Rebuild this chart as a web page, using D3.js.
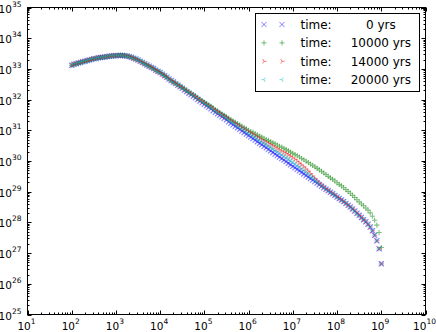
<!DOCTYPE html>
<html>
<head>
<meta charset="utf-8">
<script src="https://cdn.jsdelivr.net/npm/d3@7"></script>
<style>
  body { margin: 0; background: #fff; }
  svg { display: block; font-family: "DejaVu Sans", sans-serif; }
</style>
</head>
<body>
<svg id="chart" width="436" height="332"></svg>
<script>
// log10 of radius for every sample
const logRadius = [
  2.00,2.05,2.10,2.15,2.20,2.25,2.30,2.35,2.40,2.45,
  2.50,2.55,2.60,2.65,2.70,2.75,2.80,2.85,2.90,2.95,
  3.00,3.05,3.10,3.15,3.20,3.25,3.30,3.35,3.40,3.45,
  3.50,3.55,3.60,3.65,3.70,3.75,3.80,3.85,3.90,3.95,
  4.00,4.05,4.10,4.15,4.20,4.25,4.30,4.35,4.40,4.45,
  4.50,4.55,4.60,4.65,4.70,4.75,4.80,4.85,4.90,4.95,
  5.00,5.05,5.10,5.15,5.20,5.25,5.30,5.35,5.40,5.45,
  5.50,5.55,5.60,5.65,5.70,5.75,5.80,5.85,5.90,5.95,
  6.00,6.05,6.10,6.15,6.20,6.25,6.30,6.35,6.40,6.45,
  6.50,6.55,6.60,6.65,6.70,6.75,6.80,6.85,6.90,6.95,
  7.00,7.05,7.10,7.15,7.20,7.25,7.30,7.35,7.40,7.45,
  7.50,7.55,7.60,7.65,7.70,7.75,7.80,7.85,7.90,7.95,
  8.00,8.05,8.10,8.15,8.20,8.25,8.30,8.35,8.40,8.45,
  8.50,8.55,8.60,8.65,8.70,8.75,8.80,8.85,8.90,8.95,
  9.00
];

// log10 of the quantity, inner part (r = 10^2 .. 10^4.3) is the same for all times
const lumCore = [
  33.12,33.15,33.17,33.19,33.21,33.23,33.25,33.27,33.29,33.31,
  33.33,33.34,33.36,33.37,33.38,33.39,33.40,33.41,33.42,33.43,
  33.43,33.44,33.44,33.44,33.43,33.42,33.40,33.38,33.35,33.32,
  33.29,33.25,33.21,33.17,33.13,33.09,33.05,33.01,32.96,32.92,
  32.88,32.83,32.78,32.73,32.67,32.62,32.57
];

// outer part (r = 10^4.35 .. 10^9), one per time
const lumTail0 = [
  32.52,32.47,32.42,32.37,32.31,32.26,32.21,32.16,32.11,32.06,
  32.00,31.95,31.90,31.85,31.80,31.75,31.70,31.64,31.59,31.54,
  31.49,31.44,31.39,31.34,31.28,31.23,31.18,31.13,31.08,31.03,
  30.98,30.93,30.88,30.83,30.78,30.73,30.68,30.63,30.58,30.53,
  30.48,30.43,30.38,30.33,30.28,30.23,30.18,30.13,30.08,30.03,
  29.98,29.93,29.88,29.83,29.78,29.73,29.68,29.63,29.58,29.53,
  29.48,29.43,29.38,29.33,29.28,29.23,29.18,29.13,29.08,29.03,
  28.98,28.93,28.88,28.83,28.78,28.73,28.68,28.62,28.56,28.50,
  28.44,28.37,28.30,28.23,28.16,28.09,28.02,27.94,27.85,27.73,
  27.58,27.40,27.14,26.65
];
const lumTail10k = [
  32.53,32.48,32.44,32.39,32.34,32.29,32.25,32.20,32.16,32.11,
  32.05,32.01,31.96,31.91,31.87,31.82,31.78,31.72,31.67,31.63,
  31.58,31.53,31.49,31.44,31.39,31.35,31.30,31.26,31.22,31.18,
  31.13,31.09,31.05,31.00,30.96,30.93,30.89,30.85,30.81,30.78,
  30.74,30.70,30.67,30.63,30.59,30.56,30.52,30.48,30.45,30.41,
  30.37,30.33,30.29,30.25,30.21,30.17,30.13,30.08,30.04,29.99,
  29.95,29.90,29.86,29.81,29.76,29.71,29.66,29.61,29.56,29.50,
  29.45,29.40,29.35,29.29,29.24,29.19,29.13,29.07,29.01,28.95,
  28.88,28.81,28.74,28.67,28.60,28.54,28.47,28.40,28.31,28.20,
  28.07,27.91,27.67,27.18
];
const lumTail14k = [
  32.53,32.48,32.43,32.39,32.33,32.28,32.24,32.19,32.14,32.10,
  32.04,31.99,31.95,31.90,31.85,31.80,31.76,31.70,31.65,31.61,
  31.56,31.51,31.47,31.42,31.36,31.32,31.27,31.23,31.18,31.14,
  31.09,31.04,31.00,30.95,30.91,30.87,30.82,30.78,30.74,30.70,
  30.65,30.61,30.57,30.53,30.49,30.45,30.40,30.36,30.32,30.28,
  30.24,30.19,30.15,30.10,30.05,29.99,29.93,29.87,29.81,29.74,
  29.67,29.59,29.51,29.43,29.35,29.28,29.22,29.16,29.10,29.05,
  28.99,28.94,28.89,28.83,28.78,28.73,28.68,28.62,28.56,28.50,
  28.44,28.37,28.30,28.23,28.16,28.09,28.02,27.94,27.85,27.73,
  27.58,27.40,27.14,26.65
];
const lumTail20k = [
  32.52,32.48,32.43,32.38,32.33,32.28,32.23,32.18,32.14,32.09,
  32.03,31.98,31.94,31.89,31.84,31.79,31.75,31.69,31.64,31.59,
  31.54,31.50,31.45,31.40,31.34,31.29,31.25,31.20,31.15,31.10,
  31.06,31.01,30.96,30.91,30.87,30.82,30.77,30.73,30.68,30.63,
  30.59,30.54,30.49,30.45,30.40,30.35,30.31,30.26,30.21,30.17,
  30.12,30.07,30.02,29.97,29.92,29.86,29.81,29.75,29.69,29.63,
  29.57,29.51,29.45,29.38,29.32,29.26,29.20,29.14,29.09,29.03,
  28.98,28.93,28.88,28.83,28.78,28.73,28.68,28.62,28.56,28.50,
  28.44,28.37,28.30,28.23,28.16,28.09,28.02,27.94,27.85,27.73,
  27.58,27.40,27.14,26.65
];

const times = [0, 10000, 14000, 20000];
const xTickExps = [1, 2, 3, 4, 5, 6, 7, 8, 9, 10];
const yTickExps = [25, 26, 27, 28, 29, 30, 31, 32, 33, 34, 35];

const svg = d3.select("#chart");
const plotLeft = 27.5, plotRight = 425.5, plotTop = 7.5, plotBottom = 314.5;

const x = d3.scaleLog().domain([1e1, 1e10]).range([plotLeft, plotRight]);
const y = d3.scaleLog().domain([1e25, 1e35]).range([plotBottom, plotTop]);

// marker shapes (matplotlib x, +, tri_right, tri_left)
const S = 2.6;
const shapes = {
  x: `M${-S},${-S}L${S},${S}M${-S},${S}L${S},${-S}`,
  plus: `M${-S},0L${S},0M0,${-S}L0,${S}`,
  triRight: `M0,0L${S},0M0,0L${-S / 2},${S * 0.866}M0,0L${-S / 2},${-S * 0.866}`,
  triLeft: `M0,0L${-S},0M0,0L${S / 2},${S * 0.866}M0,0L${S / 2},${-S * 0.866}`
};

const series = [
  { time: times[0], lum: lumCore.concat(lumTail0), shape: "x", color: "#0000ff" },
  { time: times[1], lum: lumCore.concat(lumTail10k), shape: "plus", color: "#008000" },
  { time: times[2], lum: lumCore.concat(lumTail14k), shape: "triRight", color: "#ff0000" },
  { time: times[3], lum: lumCore.concat(lumTail20k), shape: "triLeft", color: "#00bfbf" }
];

// data markers
const plot = svg.append("g");
series.forEach(s => {
  plot.append("g")
    .selectAll("path")
    .data(logRadius.map((lr, i) => [Math.pow(10, lr), Math.pow(10, s.lum[i])]))
    .enter().append("path")
    .attr("d", shapes[s.shape])
    .attr("transform", d => `translate(${x(d[0])},${y(d[1])})`)
    .attr("fill", "none")
    .attr("stroke", s.color)
    .attr("stroke-opacity", 0.5)
    .attr("stroke-width", 1.1);
});

// ticks (inward, all four sides)
const ticks = svg.append("g").attr("stroke", "#000").attr("stroke-width", 1);
const minorMults = [2, 3, 4, 5, 6, 7, 8, 9];

xTickExps.forEach(e => {
  const v = Math.pow(10, e);
  const px = Math.round(x(v)) + 0.5;
  ticks.append("line").attr("x1", px).attr("x2", px).attr("y1", plotBottom).attr("y2", plotBottom - 4);
  ticks.append("line").attr("x1", px).attr("x2", px).attr("y1", plotTop).attr("y2", plotTop + 4);
  if (e < 10) minorMults.forEach(m => {
    const mx = Math.round(x(v * m)) + 0.5;
    ticks.append("line").attr("x1", mx).attr("x2", mx).attr("y1", plotBottom).attr("y2", plotBottom - 2);
    ticks.append("line").attr("x1", mx).attr("x2", mx).attr("y1", plotTop).attr("y2", plotTop + 2);
  });
});
yTickExps.forEach(e => {
  const v = Math.pow(10, e);
  const py = Math.round(y(v)) + 0.5;
  ticks.append("line").attr("y1", py).attr("y2", py).attr("x1", plotLeft).attr("x2", plotLeft + 4);
  ticks.append("line").attr("y1", py).attr("y2", py).attr("x1", plotRight).attr("x2", plotRight - 4);
  if (e < 35) minorMults.forEach(m => {
    const my = Math.round(y(v * m)) + 0.5;
    ticks.append("line").attr("y1", my).attr("y2", my).attr("x1", plotLeft).attr("x2", plotLeft + 2);
    ticks.append("line").attr("y1", my).attr("y2", my).attr("x1", plotRight).attr("x2", plotRight - 2);
  });
});

// frame
svg.append("rect")
  .attr("x", plotLeft).attr("y", plotTop)
  .attr("width", plotRight - plotLeft).attr("height", plotBottom - plotTop)
  .attr("fill", "none").attr("stroke", "#000").attr("stroke-width", 1);

// tick labels
function powLabel(sel, exp) {
  sel.append("tspan").text("10");
  sel.append("tspan").attr("dy", -6).attr("font-size", 7.5).text(exp);
}
xTickExps.forEach(e => {
  const t = svg.append("text")
    .attr("x", x(Math.pow(10, e)) - 1)
    .attr("y", 330)
    .attr("text-anchor", "middle")
    .attr("font-size", 10.5);
  powLabel(t, e);
});
yTickExps.forEach(e => {
  const t = svg.append("text")
    .attr("x", 21.5)
    .attr("y", y(Math.pow(10, e)) + 5)
    .attr("text-anchor", "end")
    .attr("font-size", 10.5);
  powLabel(t, e);
});

// legend
const legend = svg.append("g");
legend.append("rect")
  .attr("x", 255.5).attr("y", 13.5).attr("width", 164).attr("height", 78)
  .attr("fill", "#fff").attr("stroke", "#000").attr("stroke-width", 1);

series.forEach((s, i) => {
  const cy = 24.5 + i * 18.4;
  [264, 282].forEach(mx => {
    legend.append("path")
      .attr("d", shapes[s.shape])
      .attr("transform", `translate(${mx},${cy})`)
      .attr("fill", "none")
      .attr("stroke", s.color)
      .attr("stroke-opacity", 0.5);
  });
  legend.append("text")
    .attr("x", 300.5)
    .attr("y", cy + 4.5)
    .attr("font-size", 12)
    .style("white-space", "pre")
    .text("time: " + String(s.time).padStart(9, " ") + " yrs");
});
</script>
</body>
</html>
